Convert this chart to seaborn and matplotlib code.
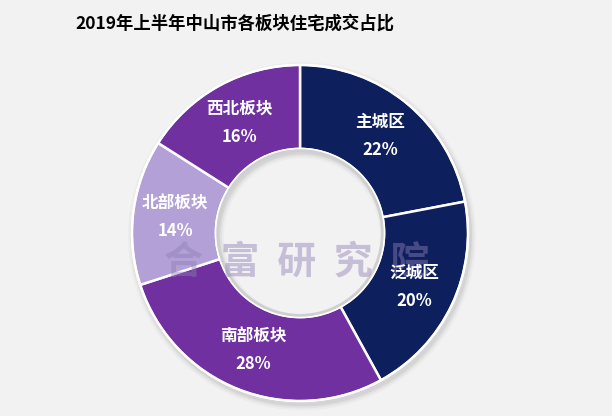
import numpy as np
import matplotlib
matplotlib.use("Agg")
import matplotlib.pyplot as plt
from matplotlib.patches import Wedge, Circle
import seaborn as sns

title = "2019年上半年中山市各板块住宅成交占比"
categories = ["主城区", "泛城区", "南部板块", "北部板块", "西北板块"]
shares = [22, 20, 28, 14, 16]
colors = ["#0E1F5E", "#0E1F5E", "#7030A0", "#B3A0D6", "#7030A0"]
watermark = "合  富  研  究  院"

sns.set_theme(style="white")
plt.rcParams["font.family"] = ["Noto Sans CJK SC", "DejaVu Sans"]

W, H = 612, 416
fig = plt.figure(figsize=(W / 100, H / 100), dpi=100)
fig.patch.set_facecolor("#F2F2F2")
ax = fig.add_axes([0, 0, 1, 1])
ax.set_facecolor("#F2F2F2")

R = 168.0
cx, cy = 300.0, 233.0

# soft shadow ring behind the donut
for i, a in enumerate([0.06, 0.04, 0.025]):
    ax.add_patch(Wedge((0.012, -0.02), 1.0 + 0.012 * (i + 1), 0, 360,
                       width=0.5 + 0.024 * (i + 1), color="#000000", alpha=a,
                       zorder=0, linewidth=0))

wedges, _ = ax.pie(shares, colors=colors, startangle=90, counterclock=False,
                   radius=1.0,
                   wedgeprops=dict(width=0.5, edgecolor="white", linewidth=1.8),
                   normalize=True)
for w in wedges:
    w.set_zorder(2)
ax.add_patch(Circle((0, 0), 1.0, fill=False, edgecolor="white", linewidth=1.5, zorder=3))
ax.add_patch(Circle((0, 0), 0.5, fill=False, edgecolor="white", linewidth=2.0, zorder=3))
# faint inner shadow of the hole
ax.add_patch(Circle((0, 0), 0.49, fill=False, edgecolor="#CFCFCF", linewidth=2.0, zorder=3))

ax.set_xlim(-cx / R, (W - cx) / R)
ax.set_ylim(-(H - cy) / R, cy / R)
ax.set_aspect("equal")
ax.axis("off")

for w, cat, s in zip(wedges, categories, shares):
    ang = np.deg2rad((w.theta1 + w.theta2) / 2)
    r = 0.75
    x, y = r * np.cos(ang), r * np.sin(ang)
    ax.text(x, y + 0.083, cat, ha="center", va="center", color="white",
            fontsize=12, fontweight="bold", zorder=5)
    ax.text(x, y - 0.083, f"{s}%", ha="center", va="center", color="white",
            fontsize=12, fontweight="bold", zorder=5)

# watermark
ax.text(-0.02, -0.17, watermark, ha="center", va="center", color="#8F7FB5",
        alpha=0.45, fontsize=28, fontweight="bold", zorder=4)

fig.text(75 / W, 1 - 24 / H, title, ha="left", va="center", fontsize=12.5,
         fontweight="bold", color="black")

fig.savefig("out.png", dpi=100, facecolor=fig.get_facecolor())
